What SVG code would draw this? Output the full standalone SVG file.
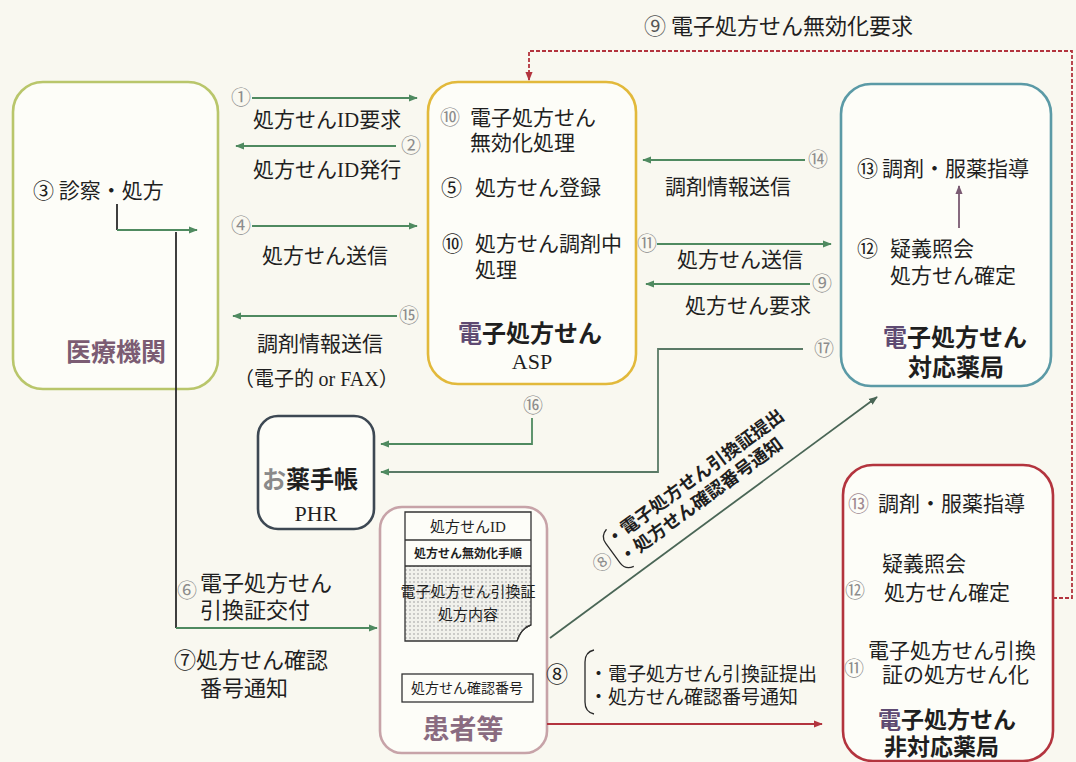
<svg xmlns="http://www.w3.org/2000/svg" width="1076" height="762" viewBox="0 0 1076 762" font-size="21">
<defs>
<style>
.t{font-family:'Noto Sans CJK JP','Noto Sans',sans-serif;fill:#1f1f1f}
.s{font-family:'Liberation Serif',serif}
.g{fill:#8c8c8c}
.ttl{font-weight:700}
.box{fill:#fdfdf8;stroke-width:2.6}
.ln{fill:none;stroke-width:1.8}
.gr{stroke:#4f8a60}
.bk{stroke:#2a2a2a}
</style>
<marker id="ag" viewBox="0 0 10 10" refX="9" refY="5" markerWidth="9" markerHeight="9" markerUnits="userSpaceOnUse" orient="auto"><path d="M0,1 L10,5 L0,9 z" fill="#4f8a60"/></marker>
<marker id="ar" viewBox="0 0 10 10" refX="9" refY="5" markerWidth="9" markerHeight="9" markerUnits="userSpaceOnUse" orient="auto"><path d="M0,1 L10,5 L0,9 z" fill="#b3343e"/></marker>
<marker id="ap" viewBox="0 0 10 10" refX="9" refY="5" markerWidth="9" markerHeight="9" markerUnits="userSpaceOnUse" orient="auto"><path d="M0,1 L10,5 L0,9 z" fill="#7a5a72"/></marker>
<marker id="ak" viewBox="0 0 10 10" refX="9" refY="5" markerWidth="9" markerHeight="9" markerUnits="userSpaceOnUse" orient="auto"><path d="M0,1 L10,5 L0,9 z" fill="#4a6656"/></marker>
<pattern id="dots" width="4" height="4" patternUnits="userSpaceOnUse"><rect width="4" height="4" fill="#f1f1ec"/><circle cx="2" cy="2" r="0.8" fill="#9a9a9a"/></pattern>
</defs>
<rect width="1076" height="762" fill="#f9f8f0"/>

<text class="t" x="644" y="34" font-size="22"><tspan fill="#555">⑨</tspan> 電子処方せん無効化要求</text>

<g id="iryo">
<rect class="box" x="13" y="82" width="205" height="307" rx="30" stroke="#b9c66b"/>
<text class="t" x="33" y="198">③ 診察・処方</text>
<text class="t" x="66" y="361" font-size="25" font-weight="700" style="fill:#7b5c73">医療機関</text>
</g>

<g id="asp">
<rect class="box" x="428" y="82" width="208" height="302" rx="30" stroke="#e2b93b" stroke-width="3"/>
<text class="t g" x="440" y="125" font-size="20">⑩</text>
<text class="t" x="470" y="125">電子処方せん</text>
<text class="t" x="470" y="150">無効化処理</text>
<text class="t" x="441" y="195">⑤</text>
<text class="t" x="475" y="195">処方せん登録</text>
<text class="t" x="442" y="251">⑩</text>
<text class="t" x="475" y="251">処方せん調剤中</text>
<text class="t" x="475" y="277">処理</text>
<text class="t ttl" x="458" y="342" font-size="24"><tspan style="fill:#5e4a72">電</tspan>子処方せん</text>
<text class="t s" x="532" y="369" font-size="22" text-anchor="middle">ASP</text>
</g>

<g id="taiou">
<rect class="box" x="841" y="84" width="210" height="302" rx="30" stroke="#5b9aa6"/>
<text class="t" x="857" y="176">⑬</text>
<text class="t" x="882" y="176">調剤・服薬指導</text>
<text class="t" x="857" y="256">⑫</text>
<text class="t" x="890" y="256">疑義照会</text>
<text class="t" x="890" y="283">処方せん確定</text>
<text class="t ttl" x="883" y="346" font-size="24"><tspan style="fill:#5e4a72">電</tspan>子処方せん</text>
<text class="t ttl" x="908" y="376" font-size="24">対応薬局</text>
</g>

<g id="hitaiou">
<rect class="box" x="843" y="465" width="210" height="296" rx="30" stroke="#b3343e"/>
<text class="t" x="848" y="511"><tspan style="fill:#a08a92">⑬</tspan></text>
<text class="t" x="878" y="511">調剤・服薬指導</text>
<text class="t" x="882" y="571">疑義照会</text>
<text class="t g" x="845" y="598" font-size="20">⑫</text>
<text class="t" x="884" y="600">処方せん確定</text>
<text class="t" x="868" y="658">電子処方せん引換</text>
<text class="t g" x="844" y="676" font-size="20">⑪</text>
<text class="t" x="882" y="682">証の処方せん化</text>
<text class="t ttl" x="878" y="728" font-size="23"><tspan style="fill:#5e4a72">電</tspan>子処方せん</text>
<text class="t ttl" x="884" y="755" font-size="23">非対応薬局</text>
</g>

<g id="okusuri">
<rect class="box" x="258" y="416" width="116" height="113" rx="20" stroke="#3d4853" stroke-width="2.2"/>
<text class="t" x="262" y="488" font-size="24" font-weight="700"><tspan style="fill:#8a8a8a">お</tspan>薬手帳</text>
<text class="t s" x="316" y="521" font-size="22" text-anchor="middle">PHR</text>
</g>

<g id="kanja">
<rect class="box" x="380" y="507" width="167" height="246" rx="22" stroke="#c7a3a8" stroke-width="2.2"/>
<path d="M405,566 H531 V625 Q522,627 517,641 H405 Z" fill="url(#dots)" stroke="none"/>
<path d="M405,512 H531 V625 Q522,627 517,641 H405 Z" fill="none" stroke="#333" stroke-width="1.3"/>
<path d="M531,625 Q520,629 517,641 Q519,631 531,625 Z" fill="#fff" stroke="#333" stroke-width="1"/>
<line x1="405" y1="540" x2="531" y2="540" stroke="#333" stroke-width="1.3"/>
<line x1="405" y1="566" x2="531" y2="566" stroke="#333" stroke-width="1.3"/>
<text class="t" x="468" y="532" font-size="15" text-anchor="middle">処方せん<tspan class="s">ID</tspan></text>
<text class="t" x="468" y="558" font-size="12" font-weight="700" text-anchor="middle">処方せん無効化手順</text>
<text class="t" x="468" y="597" font-size="15" text-anchor="middle">電子処方せん引換証</text>
<text class="t" x="468" y="620" font-size="15" text-anchor="middle">処方内容</text>
<rect x="402" y="674" width="131" height="28" fill="#fdfdf8" stroke="#333" stroke-width="1.3"/>
<text class="t" x="467" y="693" font-size="14" text-anchor="middle">処方せん確認番号</text>
<text class="t" x="463" y="739" font-size="27" font-weight="700" text-anchor="middle" style="fill:#8a6b80">患者等</text>
</g>

<g id="connectors">
<line class="ln gr" x1="252" y1="98" x2="417" y2="98" marker-end="url(#ag)"/>
<line class="ln gr" x1="396" y1="146" x2="236" y2="146" marker-end="url(#ag)"/>
<line class="ln gr" x1="252" y1="226" x2="417" y2="226" marker-end="url(#ag)"/>
<line class="ln gr" x1="397" y1="316" x2="233" y2="316" marker-end="url(#ag)"/>
<line class="ln gr" x1="805" y1="160" x2="643" y2="160" marker-end="url(#ag)"/>
<line class="ln gr" x1="657" y1="244" x2="831" y2="244" marker-end="url(#ag)"/>
<line class="ln gr" x1="810" y1="284" x2="646" y2="284" marker-end="url(#ag)"/>
<polyline class="ln" stroke="#5a7a66" points="803,349 658,349 658,472 381,472" marker-end="url(#ag)"/>
<polyline class="ln gr" points="532,418 532,444 381,444" marker-end="url(#ag)"/>
<polyline class="ln bk" points="117,204 117,230"/>
<line class="ln gr" x1="117" y1="230" x2="197" y2="230" marker-end="url(#ag)"/>
<line class="ln bk" x1="176" y1="232" x2="176" y2="628"/>
<line class="ln gr" x1="176" y1="628" x2="377" y2="628" marker-end="url(#ag)"/>
<line class="ln" stroke="#4a6656" x1="550" y1="638" x2="877" y2="397" marker-end="url(#ak)"/>
<line class="ln" stroke="#b3343e" x1="547" y1="724" x2="822" y2="724" marker-end="url(#ar)"/>
<line class="ln" stroke="#7a5a72" x1="959" y1="228" x2="959" y2="186" marker-end="url(#ap)"/>
<path class="ln" stroke="#b3343e" stroke-dasharray="4 2" d="M1053,598 H1072 V51 H529 V80" marker-end="url(#ar)"/>

<text class="t g" x="241" y="105" font-size="20" text-anchor="middle">①</text>
<text class="t" x="253" y="127">処方せん<tspan class="s">ID</tspan>要求</text>
<text class="t g" x="411" y="153" font-size="20" text-anchor="middle">②</text>
<text class="t" x="253" y="177">処方せん<tspan class="s">ID</tspan>発行</text>
<text class="t g" x="241" y="233" font-size="20" text-anchor="middle">④</text>
<text class="t" x="262" y="263">処方せん送信</text>
<text class="t g" x="409" y="323" font-size="20" text-anchor="middle">⑮</text>
<text class="t" x="257" y="351">調剤情報送信</text>
<text class="t" x="234" y="386" font-size="20">（電子的 <tspan class="s">or FAX</tspan>）</text>
<text class="t g" x="818" y="167" font-size="20" text-anchor="middle">⑭</text>
<text class="t" x="665" y="194">調剤情報送信</text>
<text class="t g" x="647" y="251" font-size="20" text-anchor="middle">⑪</text>
<text class="t" x="677" y="267">処方せん送信</text>
<text class="t g" x="822" y="291" font-size="20" text-anchor="middle">⑨</text>
<text class="t" x="685" y="313">処方せん要求</text>
<text class="t g" x="824" y="356" font-size="20" text-anchor="middle">⑰</text>
<text class="t g" x="533" y="413" font-size="20" text-anchor="middle">⑯</text>
<text class="t g" x="187" y="598" font-size="20" text-anchor="middle">⑥</text>
<text class="t" x="200" y="591" font-size="22">電子処方せん</text>
<text class="t" x="200" y="618" font-size="22">引換証交付</text>
<text class="t" x="174" y="668" font-size="22">⑦処方せん確認</text>
<text class="t" x="200" y="696" font-size="22">番号通知</text>
<text class="t" x="557" y="682" font-size="22" text-anchor="middle">⑧</text>
<path d="M594,650 Q585,652 585,662 V702 Q585,712 594,714" fill="none" stroke="#2a2a2a" stroke-width="1.3"/>
<text class="t" x="589" y="681" font-size="19">・電子処方せん引換証提出</text>
<text class="t" x="589" y="704" font-size="19">・処方せん確認番号通知</text>
<g transform="translate(550,638) rotate(-36.4)">
<text class="t g" x="87" y="-23" font-size="19" text-anchor="middle">⑧</text>
<path d="M110,-54 Q101,-52 101,-43 V-19 Q101,-10 110,-8" fill="none" stroke="#2a2a2a" stroke-width="1.3"/>
<text class="t" x="104" y="-37" font-size="18" font-weight="700">・電子処方せん引換証提出</text>
<text class="t" x="104" y="-15" font-size="18" font-weight="700">・処方せん確認番号通知</text>
</g>
</g>
</svg>
